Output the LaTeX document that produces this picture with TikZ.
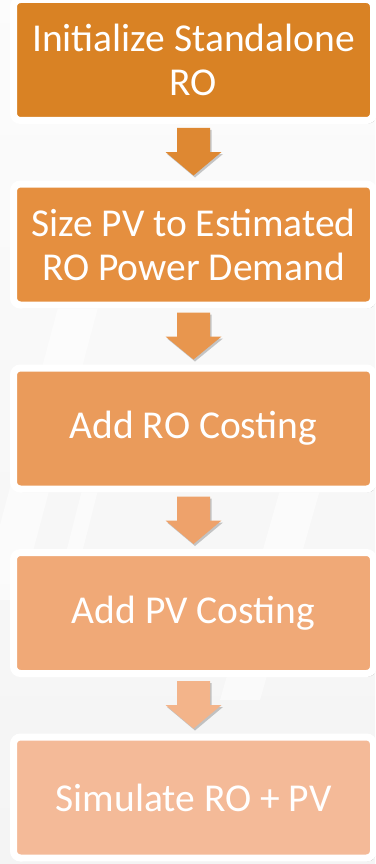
\documentclass[tikz,border=0pt]{standalone}
\usepackage{fontspec}
\setmainfont{Carlito}
\usetikzlibrary{calc,shadows}

\definecolor{bgpaper}{HTML}{F4F4F4}
\definecolor{stepA}{HTML}{D98224}
\definecolor{stepB}{HTML}{E58F3F}
\definecolor{stepC}{HTML}{EA9B5B}
\definecolor{stepD}{HTML}{F0A977}
\definecolor{stepE}{HTML}{F4BA98}
\definecolor{arrA}{HTML}{DE8832}
\definecolor{arrB}{HTML}{E8964E}
\definecolor{arrC}{HTML}{EEA26B}
\definecolor{arrD}{HTML}{F3B48A}

\tikzset{
  stepbox/.style={
    rectangle, rounded corners=7pt, draw=white, line width=7pt,
    minimum width=360pt, minimum height=121pt, inner sep=0pt,
    text=white, align=center,
    font=\fontsize{39.5}{44}\selectfont,
    drop shadow={shadow xshift=2pt, shadow yshift=-3pt, opacity=0.45, fill=black!70}
  },
  flowshape/.style={
    drop shadow={shadow xshift=1.5pt, shadow yshift=-2pt, opacity=0.3, fill=black!70}
  }
}

% block arrow hanging below #1 and pointing at the top of #2
\newcommand\flowarrow[3]{%
  \fill[#3, flowshape]
    ($(#1.south)+(-16.5,-4)$) -- ($(#1.south)+(16.5,-4)$) --
    ($(#1.south)+(16.5,-28)$) -- ($(#1.south)+(28,-28)$) --
    ($(#2.north)+(0,5)$) --
    ($(#1.south)+(-28,-28)$) -- ($(#1.south)+(-16.5,-28)$) -- cycle;}

\begin{document}
\begin{tikzpicture}[x=1pt,y=1pt]
  % paper, lighter at the top, with soft diagonal light streaks
  \shade[top color=white!70!bgpaper, bottom color=bgpaper] (0,0) rectangle (375,-864);
  \useasboundingbox (0,0) rectangle (375,-864);
  \fill[white, opacity=0.55] (60,-300) -- (100,-300) -- (20,-600) -- (-20,-600) -- cycle;
  \fill[white, opacity=0.55] (110,-380) -- (126,-380) -- (70,-600) -- (54,-600) -- cycle;
  \fill[white, opacity=0.5] (300,-420) -- (340,-420) -- (260,-700) -- (220,-700) -- cycle;

  \node[stepbox, fill=stepA] (b1) at (193.5,-60)    {Initialize Standalone\\RO};
  \node[stepbox, fill=stepB] (b2) at (193.5,-244.5) {Size PV to Estimated\\RO Power Demand};
  \node[stepbox, fill=stepC] (b3) at (193.5,-428.5) {Add RO Costing};
  \node[stepbox, fill=stepD] (b4) at (193.5,-613)   {Add PV Costing};
  \node[stepbox, fill=stepE] (b5) at (193.5,-797.5) {Simulate RO + PV};

  \flowarrow{b1}{b2}{arrA}
  \flowarrow{b2}{b3}{arrB}
  \flowarrow{b3}{b4}{arrC}
  \flowarrow{b4}{b5}{arrD}
\end{tikzpicture}
\end{document}
